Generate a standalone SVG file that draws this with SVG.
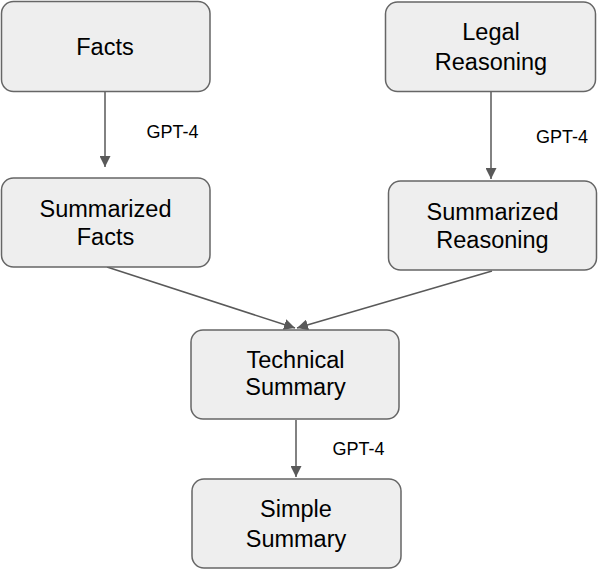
<svg xmlns="http://www.w3.org/2000/svg" width="598" height="570" viewBox="0 0 598 570">
<defs>
<style>
.box{fill:#eeeeee;stroke:#666666;stroke-width:1.5}
.t{font-family:"Liberation Sans",Arial,sans-serif;font-size:23.5px;fill:#000;text-anchor:middle}
.l{font-family:"Liberation Sans",Arial,sans-serif;font-size:18px;fill:#000}
.c{stroke:#595959;stroke-width:1.5;fill:none}
</style>
<marker id="ah" viewBox="0 0 10 10" refX="10" refY="5" markerWidth="11" markerHeight="11" markerUnits="userSpaceOnUse" orient="auto">
<path d="M0,0 L10,5 L0,10 z" fill="#595959"/>
</marker>
</defs>
<g id="connectors">
<line class="c" x1="105" y1="92" x2="105" y2="167" marker-end="url(#ah)"/>
<line class="c" x1="491" y1="92" x2="491" y2="179" marker-end="url(#ah)"/>
<line class="c" x1="107" y1="267" x2="295" y2="328" marker-end="url(#ah)"/>
<line class="c" x1="492" y1="271" x2="297" y2="328" marker-end="url(#ah)"/>
<line class="c" x1="296" y1="420" x2="296" y2="477" marker-end="url(#ah)"/>
<text class="l" x="146.5" y="138">GPT-4</text>
<text class="l" x="536" y="143">GPT-4</text>
<text class="l" x="332.5" y="455">GPT-4</text>
</g>
<g id="facts">
<rect class="box" x="1.5" y="1.5" width="208.5" height="90" rx="12"/>
<text class="t" x="105" y="55">Facts</text>
</g>
<g id="legal">
<rect class="box" x="385.5" y="2" width="210" height="89.5" rx="12"/>
<text class="t" x="491" y="40">Legal</text>
<text class="t" x="491" y="70">Reasoning</text>
</g>
<g id="sumfacts">
<rect class="box" x="1.5" y="178" width="208.5" height="89" rx="12"/>
<text class="t" x="105.5" y="217">Summarized</text>
<text class="t" x="105.5" y="244.5">Facts</text>
</g>
<g id="sumreason">
<rect class="box" x="388.5" y="181" width="208" height="89" rx="12"/>
<text class="t" x="492.5" y="220">Summarized</text>
<text class="t" x="492.5" y="248">Reasoning</text>
</g>
<g id="technical">
<rect class="box" x="191" y="330" width="208" height="89" rx="12"/>
<text class="t" x="295.5" y="367.5">Technical</text>
<text class="t" x="295.5" y="395">Summary</text>
</g>
<g id="simple">
<rect class="box" x="192" y="479" width="209" height="89" rx="12"/>
<text class="t" x="296" y="517">Simple</text>
<text class="t" x="296" y="546.5">Summary</text>
</g>
</svg>
